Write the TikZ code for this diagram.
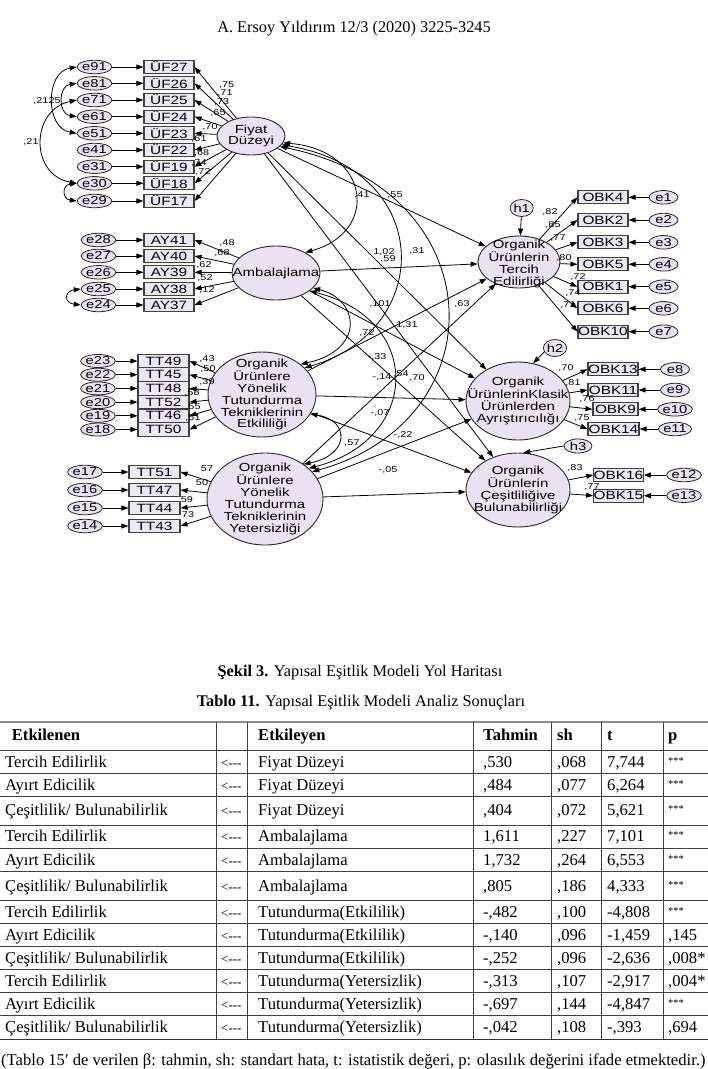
\documentclass[tikz,border=0pt]{standalone}
\usepackage{fontspec}
\setmainfont{Liberation Serif}
\newfontfamily\amos[FakeStretch=1.28]{Liberation Sans}
\usetikzlibrary{arrows.meta,shapes.geometric}
\definecolor{latfill}{RGB}{233,226,243}
\definecolor{boxfill}{RGB}{236,231,245}
\newcommand{\afont}[1]{\amos\fontsize{#1}{#1}\selectfont}
\newcommand{\stars}{\raisebox{3pt}{\fontsize{10.5}{10.5}\selectfont ***}}
\newcommand{\tabrow}[8]{%
\node[tc] (r#1a) at (5,#2) {#3};
\node[tc, font=\fontsize{13}{13}\selectfont] (r#1b) at (221,#2) {<-\kern0pt-\kern0pt-};
\node[tc] (r#1c) at (258,#2) {#4};
\node[tc] (r#1d) at (483,#2) {#5};
\node[tc] (r#1e) at (557,#2) {#6};
\node[tc] (r#1f) at (607,#2) {#7};
\node[tc] (r#1g) at (668,#2) {#8};}
\begin{document}
\begin{tikzpicture}[x=1pt,y=-1pt,
 box/.style={draw=black!75, fill=boxfill, line width=1.1pt, minimum width=50pt, minimum height=13pt, inner sep=0pt, font=\afont{12}},
 err/.style={ellipse, draw=black!85, fill=latfill, line width=0.8pt, minimum width=29pt, minimum height=13.5pt, inner sep=0pt, font=\afont{11.5}},
 lat/.style={ellipse, draw=black!85, fill=latfill, line width=0.9pt, inner sep=0pt},
 ltext/.style={align=center, font=\amos\fontsize{11.7}{11.8}\selectfont, inner sep=0pt},
 arr/.style={-{Triangle[length=7pt,width=5pt]}, line width=0.8pt},
 cov/.style={{Triangle[length=7pt,width=5pt]}-{Triangle[length=7pt,width=5pt]}, line width=0.8pt},
 lab/.style={font=\afont{8.5}, inner sep=0pt},
 tc/.style={anchor=west, inner sep=0pt, font=\fontsize{16.6}{17}\selectfont, text height=11.5pt, text depth=3pt},
 tl/.style={line width=0.9pt, black!75},
 serif/.style={font=\fontsize{16.3}{17}\selectfont, inner sep=0pt},
]
\useasboundingbox (0,0) rectangle (708,1069);

\node[serif] (hdr) at (354,29) {A. Ersoy Yıldırım 12/3 (2020) 3225-3245};

% ---------- latent variables ----------
\node[lat, minimum width=68pt, minimum height=38pt] (F) at (251,136) {};
\node[ltext] (Ft) at (F) {Fiyat\\Düzeyi};
\node[lat, minimum width=88pt, minimum height=54pt] (A) at (276,273) {};
\node[ltext] (At) at (A) {Ambalajlama};
\node[lat, minimum width=108pt, minimum height=85pt] (E) at (262,394.5) {};
\node[ltext, font=\amos\fontsize{11.7}{11.9}\selectfont] (Et) at (E) {Organik\\Ürünlere\\Yönelik\\Tutundurma\\Tekniklerinin\\Etkililiği};
\node[lat, minimum width=116pt, minimum height=92pt] (Y) at (265,499) {};
\node[ltext, font=\amos\fontsize{11.7}{11.9}\selectfont] (Yt) at (Y) {Organik\\Ürünlere\\Yönelik\\Tutundurma\\Tekniklerinin\\Yetersizliği};

\node[lat, minimum width=82pt, minimum height=52pt] (T) at (519,262) {};
\node[ltext] (Tt) at (519,264) {Organik\\Ürünlerin\\Tercih\\Edilirliği};
\node[lat, minimum width=104pt, minimum height=78pt] (R) at (518,401) {};
\node[ltext] (Rt) at (R) {Organik\\ÜrünlerinKlasik\\Ürünlerden\\Ayrıştırıcılığı};
\node[lat, minimum width=104pt, minimum height=74pt] (C) at (518,490) {};
\node[ltext] (Ct) at (C) {Organik\\Ürünlerin\\Çeşitliliğive\\Bulunabilirliği};

\node[err, minimum width=17pt, minimum height=17pt] (h1) at (521.7,208) {h1};
\node[err, minimum width=22pt, minimum height=17pt] (h2) at (555,348) {h2};
\node[err, minimum width=28pt, minimum height=14pt] (h3) at (578,446) {h3};
\draw[arr] (h1) -- (T);
\draw[arr] (h2.200) -- (R.68);
\draw[arr] (h3.west) -- (C.82);

% ---------- Fiyat indicators ----------
\foreach \n/\ee/\y in {27/91/67,26/81/83.3,25/71/100,24/61/116.7,23/51/133.3,22/41/150,19/31/166.7,18/30/183.3,17/29/201}{
  \node[box] (uf\n) at (169,\y) {ÜF\n};
  \path (uf\n.center) ++(-74.5,0) node[err] (e\ee) {e\ee};
  \draw[arr] (e\ee) -- (uf\n);
  \draw[arr] (F) -- (uf\n.east);
}
% ---------- Ambalajlama indicators ----------
\foreach \n/\ee/\y in {41/28/240,40/27/256,39/26/272.3,38/25/289,37/24/305}{
  \node[box] (ay\n) at (169,\y) {AY\n};
  \path (ay\n.center) ++(-70.5,0) node[err, minimum width=31pt] (e\ee) {e\ee};
  \draw[arr] (e\ee) -- (ay\n);
  \draw[arr] (A) -- (ay\n.east);
}
% ---------- Etkililik indicators ----------
\foreach \n/\ee/\y in {49/23/361,45/22/374.7,48/21/388.4,52/20/402.1,46/19/415.8,50/18/429.5}{
  \node[box, minimum width=51pt, minimum height=13.7pt] (tt\n) at (163.5,\y) {TT\n};
  \path (tt\n.center) ++(-65.5,0) node[err, minimum width=30pt, minimum height=13pt] (e\ee) {e\ee};
  \draw[arr] (e\ee) -- (tt\n);
  \draw[arr] (E) -- (tt\n.east);
}
% ---------- Yetersizlik indicators ----------
\foreach \n/\ee/\y in {51/17/472,47/16/490,44/15/508,43/14/526}{
  \node[box, minimum width=51pt, minimum height=13.5pt] (tt\n) at (154.5,\y) {TT\n};
  \path (tt\n.center) ++(-69.5,0) node[err, minimum width=30pt] (e\ee) {e\ee};
  \draw[arr] (e\ee) -- (tt\n);
  \draw[arr] (Y) -- (tt\n.east);
}
% ---------- Tercih indicators ----------
\foreach \n/\ee/\y in {4/1/197.3,2/2/220,3/3/242.3,5/4/264.3,1/5/286.7,6/6/308.3,10/7/331.7}{
  \node[box] (obk\n) at (603,\y) {OBK\n};
  \path (obk\n.center) ++(60.5,0) node[err] (e\ee) {e\ee};
  \draw[arr] (e\ee) -- (obk\n);
  \draw[arr] (T) -- (obk\n.west);
}
% ---------- Ayristiricilik indicators ----------
\foreach \n/\ee/\x/\w/\y in {13/8/613/50/369.3,11/9/613/50/390,9/10/615.5/45/409.3,14/11/613.5/51/429}{
  \node[box, minimum width=\w pt] (obk\n) at (\x,\y) {OBK\n};
  \node[err] (e\ee) at (675,\y) {e\ee};
  \draw[arr] (e\ee) -- (obk\n);
  \draw[arr] (R) -- (obk\n.west);
}
% ---------- Cesitlilik indicators ----------
\foreach \n/\ee/\y in {16/12/475,15/13/495.7}{
  \node[box, minimum width=49pt] (obk\n) at (618.5,\y) {OBK\n};
  \node[err, minimum width=28pt] (e\ee) at (684,\y) {e\ee};
  \draw[arr] (e\ee) -- (obk\n);
  \draw[arr] (C) -- (obk\n.west);
}

% ---------- structural paths ----------
\foreach \s in {F,A,E,Y}{
  \foreach \t in {T,R,C}{
    \draw[arr] (\s) -- (\t);
  }
}
% ---------- covariances ----------
\draw[cov] (F.-12) .. controls (370,150) and (380,232) .. (A.35);
\draw[cov] (F.-16) .. controls (435,170) and (435,330) .. (E.32);
\draw[cov] (F.-20) .. controls (495,190) and (500,420) .. (Y.30);
\draw[cov] (A.-22) .. controls (360,300) and (365,350) .. (E.38);
\draw[cov] (A.-28) .. controls (425,320) and (420,440) .. (Y.35);
\draw[cov] (E.-22) .. controls (350,420) and (350,455) .. (Y.42);

\draw[cov] (e91.west) .. controls (45,72) and (45,128) .. (e51.west);
\draw[cov] (e81.west) .. controls (58,86) and (58,114) .. (e61.west);
\draw[cov] (e71.west) .. controls (30,110) and (30,175) .. (e30.west);
\draw[cov] (e30.west) .. controls (62,185) and (62,199) .. (e29.west);
\draw[cov] (e25.west) .. controls (64,291) and (64,303) .. (e24.west);

% ---------- labels ----------
\node[lab] (l1) at (47,101) {,2125};
\node[lab] (l2) at (31,142) {,21};
\foreach \x/\y/\t [count=\i] in {226.7/85/{,75},225/93.3/{,71},221.7/101.7/{,73},218/113.3/{,65},210/126.7/{,70},199/139/{,61},201.7/152.7/{,68},199/162.7/{,74},203/171.7/{,72},
 227/243/{,48},222/253/{,68},204/265/{,62},205/278/{,52},207/290/{,12},
 207/359/{,43},208/369/{,50},207/382/{,39},192/393/{,58},193/407/{,55},193/418/{,51},
 207/469/{57},202/483/{50},187/500/{59},188/515/{73},
 550/212/{,82},553/225/{,85},558/238/{,77},564/258/{,80},578/277/{,72},573/293/{,74},568/305/{,71},
 566/368/{,70},573/383/{,81},587/399/{,76},582/418/{,75},575/468/{,83},592/487/{,77},
 362/195/{,41},395/195/{,55},384/252/{1,02},417/251/{,31},388/259/{,59},380/304/{,101},462/304/{,63},
 407/325/{1,31},367/333/{,72},377/357/{-,33},382/377/{-,14},401/374/{,54},417/378/{,70},
 380/413/{-,07},403/435/{-,22},352/443/{,57},388/470/{-,05}}{
  \node[lab] (lb\i) at (\x,\y) {\t};
}

% ---------- captions ----------
\node[serif] (cap1) at (360,673) {\textbf{Şekil 3.} Yapısal Eşitlik Modeli Yol Haritası};
\node[serif] (cap2) at (361,702.7) {\textbf{Tablo 11.} Yapısal Eşitlik Modeli Analiz Sonuçları};

% ---------- table ----------
\draw[line width=1.6pt, black!45] (0,721.7) -- (708,721.7);
\foreach \y in {750,773,796.7,825,848,871,900,923.3,946.7,969.3,992.3,1015.7}{
  \draw[tl] (0,\y) -- (708,\y);
}
\draw[line width=1.1pt, black!80] (0,1039.3) -- (708,1039.3);
\foreach \x in {216.7,247.5,473,551.7,601.8,663.7}{
  \draw[tl] (\x,721.7) -- (\x,1039.3);
}
\node[tc, font=\fontsize{16.6}{17}\selectfont\bfseries] (hA) at (11.7,736.7) {Etkilenen};
\node[tc, font=\fontsize{16.6}{17}\selectfont\bfseries] (hC) at (258,736.7) {Etkileyen};
\node[tc, font=\fontsize{16.6}{17}\selectfont\bfseries] (hD) at (483,736.7) {Tahmin};
\node[tc, font=\fontsize{16.6}{17}\selectfont\bfseries] (hE) at (557,736.7) {sh};
\node[tc, font=\fontsize{16.6}{17}\selectfont\bfseries] (hF) at (607,736.7) {t};
\node[tc, font=\fontsize{16.6}{17}\selectfont\bfseries] (hG) at (668,736.7) {p};

\tabrow{1}{763}{Tercih Edilirlik}{Fiyat Düzeyi}{,530}{,068}{7,744}{\stars}
\tabrow{2}{786}{Ayırt Edicilik}{Fiyat Düzeyi}{,484}{,077}{6,264}{\stars}
\tabrow{3}{811.7}{Çeşitlilik/ Bulunabilirlik}{Fiyat Düzeyi}{,404}{,072}{5,621}{\stars}
\tabrow{4}{837.7}{Tercih Edilirlik}{Ambalajlama}{1,611}{,227}{7,101}{\stars}
\tabrow{5}{861.7}{Ayırt Edicilik}{Ambalajlama}{1,732}{,264}{6,553}{\stars}
\tabrow{6}{887}{Çeşitlilik/ Bulunabilirlik}{Ambalajlama}{,805}{,186}{4,333}{\stars}
\tabrow{7}{913.3}{Tercih Edilirlik}{Tutundurma(Etkililik)}{-,482}{,100}{-4,808}{\stars}
\tabrow{8}{936}{Ayırt Edicilik}{Tutundurma(Etkililik)}{-,140}{,096}{-1,459}{,145}
\tabrow{9}{959}{Çeşitlilik/ Bulunabilirlik}{Tutundurma(Etkililik)}{-,252}{,096}{-2,636}{,008*}
\tabrow{10}{982.5}{Tercih Edilirlik}{Tutundurma(Yetersizlik)}{-,313}{,107}{-2,917}{,004*}
\tabrow{11}{1005.5}{Ayırt Edicilik}{Tutundurma(Yetersizlik)}{-,697}{,144}{-4,847}{\stars}
\tabrow{12}{1028}{Çeşitlilik/ Bulunabilirlik}{Tutundurma(Yetersizlik)}{-,042}{,108}{-,393}{,694}

\node[tc, font=\fontsize{16.6}{17}\selectfont] (cap3) at (1,1061) {(Tablo 15′ de verilen β: tahmin, sh: standart hata, t: istatistik değeri, p: olasılık değerini ifade etmektedir.)};
\end{tikzpicture}
\end{document}
